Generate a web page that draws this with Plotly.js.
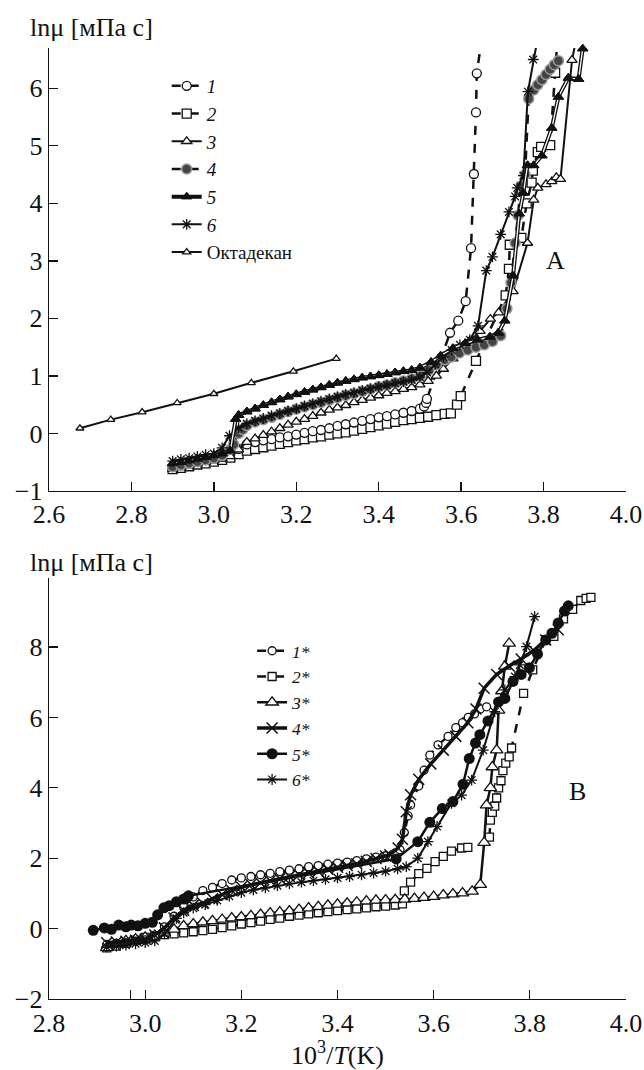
<!DOCTYPE html>
<html><head><meta charset="utf-8">
<script src="https://cdn.plot.ly/plotly-3.0.1.min.js"></script>
</head><body style="margin:0"><div id="chart"></div>
<script>
// ---------- Panel A ----------
const a_names = ['<i>1</i>','<i>2</i>','<i>3</i>','<i>4</i>','<i>5</i>','<i>6</i>','Октадекан'];
const a1_x = [2.90,2.92,2.94,2.96,2.98,3.00,3.02,3.04,3.06,3.08,3.10,3.12,3.14,3.16,3.18,3.20,3.22,3.24,3.26,3.28,3.30,3.32,3.34,3.36,3.38,3.40,3.42,3.44,3.46,3.48,3.50,3.51,3.515,3.517,3.573,3.593,3.611,3.624,3.631,3.636,3.638,3.649];
const a1_y = [-0.58,-0.55,-0.52,-0.49,-0.46,-0.43,-0.40,-0.35,-0.27,-0.19,-0.15,-0.12,-0.10,-0.07,-0.05,-0.02,0.01,0.04,0.06,0.09,0.13,0.16,0.19,0.22,0.25,0.28,0.30,0.33,0.36,0.39,0.43,0.47,0.53,0.60,1.75,1.96,2.30,3.22,4.51,5.58,6.26,6.82];
const a2_x = [2.90,2.92,2.94,2.96,2.98,3.00,3.02,3.04,3.06,3.08,3.10,3.12,3.14,3.16,3.18,3.20,3.22,3.24,3.26,3.28,3.30,3.32,3.34,3.36,3.38,3.40,3.42,3.44,3.46,3.48,3.50,3.52,3.54,3.56,3.575,3.59,3.599,3.636,3.708,3.716,3.718,3.746,3.759,3.771,3.774,3.786,3.794,3.816,3.828,3.834];
const a2_y = [-0.62,-0.60,-0.57,-0.54,-0.52,-0.49,-0.46,-0.42,-0.36,-0.30,-0.27,-0.24,-0.21,-0.18,-0.15,-0.12,-0.10,-0.07,-0.05,-0.02,0.00,0.02,0.05,0.08,0.11,0.14,0.17,0.20,0.23,0.25,0.27,0.29,0.32,0.34,0.35,0.50,0.65,1.26,2.40,2.86,3.28,3.40,4.00,4.36,4.57,4.89,4.98,5.01,6.27,6.88];
const a3_x = [2.90,2.92,2.94,2.96,2.98,3.00,3.02,3.04,3.06,3.08,3.10,3.12,3.14,3.16,3.18,3.20,3.22,3.24,3.26,3.28,3.30,3.32,3.34,3.36,3.38,3.40,3.42,3.44,3.46,3.48,3.50,3.52,3.54,3.557,3.58,3.60,3.62,3.646,3.671,3.691,3.726,3.761,3.776,3.786,3.806,3.82,3.831,3.841,3.869,3.881];
const a3_y = [-0.62,-0.59,-0.56,-0.53,-0.50,-0.47,-0.44,-0.40,-0.28,-0.15,-0.09,-0.03,0.03,0.09,0.15,0.20,0.25,0.30,0.36,0.41,0.45,0.49,0.54,0.58,0.62,0.66,0.70,0.73,0.77,0.80,0.85,0.91,1.00,1.12,1.30,1.45,1.60,1.78,1.99,2.10,2.47,3.31,4.06,4.27,4.33,4.38,4.45,4.42,6.49,6.92];
const a4_x = [2.90,2.92,2.94,2.96,2.98,3.00,3.02,3.04,3.048,3.06,3.07,3.08,3.10,3.12,3.14,3.16,3.18,3.20,3.22,3.24,3.26,3.28,3.30,3.32,3.34,3.36,3.38,3.40,3.42,3.44,3.46,3.48,3.50,3.522,3.54,3.56,3.576,3.596,3.616,3.636,3.656,3.676,3.696,3.711,3.721,3.731,3.738,3.745,3.755,3.764,3.776,3.786,3.796,3.806,3.816,3.826,3.836];
const a4_y = [-0.58,-0.55,-0.52,-0.49,-0.46,-0.43,-0.38,-0.28,-0.19,0.00,0.07,0.14,0.20,0.24,0.28,0.33,0.38,0.42,0.46,0.50,0.54,0.58,0.62,0.66,0.69,0.73,0.77,0.81,0.84,0.88,0.91,0.95,0.99,1.10,1.20,1.28,1.33,1.40,1.45,1.50,1.54,1.60,1.70,2.17,2.62,3.31,3.79,4.30,4.50,5.82,5.97,6.06,6.15,6.24,6.33,6.41,6.48];
const a5_x = [2.90,2.92,2.94,2.96,2.98,3.00,3.02,3.04,3.053,3.06,3.08,3.10,3.12,3.14,3.16,3.18,3.20,3.22,3.24,3.26,3.28,3.30,3.32,3.34,3.36,3.38,3.40,3.42,3.44,3.46,3.48,3.50,3.527,3.55,3.58,3.61,3.64,3.67,3.69,3.706,3.726,3.741,3.751,3.761,3.776,3.796,3.82,3.836,3.86,3.885,3.895,3.90];
const a5_y = [-0.52,-0.50,-0.47,-0.44,-0.41,-0.38,-0.35,-0.30,0.25,0.32,0.38,0.43,0.49,0.54,0.59,0.64,0.68,0.72,0.76,0.80,0.84,0.88,0.91,0.94,0.97,0.99,1.01,1.03,1.06,1.08,1.10,1.14,1.24,1.35,1.48,1.57,1.63,1.68,1.75,1.96,2.74,3.82,4.18,4.66,4.66,4.83,5.31,5.85,6.18,6.16,6.69,6.93];
const a6_x = [2.90,2.92,2.94,2.96,2.98,3.00,3.02,3.038,3.06,3.08,3.10,3.12,3.14,3.16,3.18,3.20,3.22,3.24,3.26,3.28,3.30,3.32,3.34,3.36,3.38,3.40,3.42,3.44,3.46,3.48,3.50,3.517,3.537,3.557,3.577,3.597,3.621,3.641,3.661,3.676,3.696,3.716,3.731,3.736,3.751,3.762,3.775,3.787];
const a6_y = [-0.48,-0.45,-0.43,-0.40,-0.37,-0.35,-0.25,-0.04,0.10,0.17,0.22,0.26,0.31,0.35,0.39,0.43,0.48,0.52,0.56,0.60,0.64,0.68,0.71,0.75,0.78,0.81,0.84,0.87,0.90,0.93,0.98,1.06,1.20,1.33,1.45,1.54,1.63,1.87,2.83,3.07,3.46,3.85,4.12,4.27,4.48,5.94,6.50,6.92];
const oct_x = [2.675,2.75,2.826,2.911,3.0,3.091,3.193,3.297];
const oct_y = [0.09,0.24,0.37,0.53,0.69,0.88,1.08,1.30];

// ---------- Panel B ----------
const b_names = ['<i>1*</i>','<i>2*</i>','<i>3*</i>','<i>4*</i>','<i>5*</i>','<i>6*</i>'];
const b1_x = [2.92,2.94,2.96,2.98,3.00,3.02,3.04,3.06,3.08,3.10,3.12,3.14,3.16,3.18,3.20,3.22,3.24,3.26,3.28,3.30,3.32,3.34,3.36,3.38,3.40,3.42,3.44,3.46,3.48,3.50,3.52,3.53,3.539,3.547,3.552,3.569,3.58,3.592,3.609,3.63,3.646,3.66,3.672,3.685,3.697,3.71];
const b1_y = [-0.45,-0.42,-0.40,-0.36,-0.32,-0.22,0.05,0.35,0.62,0.90,1.08,1.17,1.28,1.38,1.44,1.48,1.53,1.57,1.62,1.66,1.70,1.76,1.79,1.83,1.86,1.89,1.93,1.98,2.03,2.07,2.15,2.24,2.73,3.20,3.51,4.05,4.50,4.93,5.22,5.46,5.71,5.85,6.00,6.10,6.24,6.30];
const b2_x = [2.92,2.94,2.96,2.98,3.00,3.02,3.04,3.06,3.08,3.10,3.12,3.14,3.16,3.18,3.20,3.22,3.24,3.26,3.28,3.30,3.32,3.34,3.36,3.38,3.40,3.42,3.44,3.46,3.48,3.50,3.52,3.535,3.539,3.552,3.569,3.586,3.603,3.62,3.637,3.658,3.671,null,3.716,3.718,3.722,3.727,3.731,3.735,3.74,3.744,3.75,3.757,3.762,3.787,3.806,3.833,3.85,3.87,3.889,3.906,3.917,3.927];
const b2_y = [-0.55,-0.50,-0.42,-0.33,-0.25,-0.20,-0.17,-0.15,-0.12,-0.09,-0.06,-0.02,0.03,0.08,0.13,0.17,0.21,0.26,0.30,0.35,0.38,0.42,0.45,0.48,0.51,0.54,0.56,0.59,0.62,0.64,0.67,0.70,1.07,1.32,1.56,1.71,1.90,2.05,2.20,2.29,2.31,null,2.60,3.08,3.30,3.48,3.71,4.00,4.20,4.49,4.70,4.88,5.13,6.68,7.35,8.20,8.30,8.80,9.07,9.32,9.38,9.41];
const b3_x = [2.92,2.94,2.96,2.98,3.00,3.02,3.04,3.06,3.08,3.10,3.12,3.14,3.16,3.18,3.20,3.22,3.24,3.26,3.28,3.30,3.32,3.34,3.36,3.38,3.40,3.42,3.44,3.46,3.48,3.50,3.52,3.54,3.56,3.58,3.60,3.62,3.64,3.66,3.68,3.697,3.705,3.71,3.718,3.722,3.731,3.735,3.742,3.748,3.757];
const b3_y = [-0.55,-0.45,-0.35,-0.30,-0.25,-0.20,-0.13,-0.02,0.08,0.13,0.18,0.22,0.26,0.30,0.33,0.36,0.40,0.44,0.47,0.50,0.54,0.58,0.62,0.66,0.69,0.72,0.75,0.78,0.80,0.81,0.82,0.83,0.85,0.88,0.91,0.95,0.98,1.01,1.06,1.25,2.44,3.51,4.00,4.59,5.07,6.20,6.75,7.45,8.10];
const b4_x = [2.92,2.94,2.96,2.98,3.00,3.02,3.04,3.06,3.08,3.10,3.12,3.14,3.16,3.18,3.20,3.22,3.24,3.26,3.28,3.30,3.32,3.34,3.36,3.38,3.40,3.42,3.44,3.46,3.48,3.50,3.509,3.526,3.535,3.543,3.552,3.569,3.594,3.62,3.646,3.671,3.688,3.705,3.731,3.757,3.782,3.808,3.833,3.859];
const b4_y = [-0.40,-0.38,-0.36,-0.33,-0.30,-0.18,0.02,0.30,0.52,0.66,0.72,0.85,0.97,1.08,1.18,1.25,1.30,1.36,1.42,1.48,1.53,1.58,1.63,1.69,1.74,1.79,1.84,1.91,1.99,2.06,2.10,2.29,2.54,3.32,3.80,4.24,4.68,5.07,5.46,5.85,6.24,6.83,7.22,7.46,7.66,7.90,8.20,8.49];
const b5_x = [2.892,2.915,2.93,2.945,2.96,2.971,2.985,3.0,3.015,3.026,3.039,3.05,3.065,3.08,3.09,3.522,3.567,3.592,3.618,3.64,3.661,3.674,3.687,3.696,3.713,3.735,3.748,3.765,3.782,3.799,3.816,3.833,3.846,3.859,3.872,3.88];
const b5_y = [-0.05,0.02,-0.02,0.10,0.05,0.10,0.08,0.15,0.18,0.39,0.59,0.65,0.76,0.84,0.93,1.98,2.47,3.02,3.41,3.61,4.10,4.83,5.27,5.51,5.90,6.44,6.54,7.02,7.22,7.41,7.80,8.20,8.39,8.68,9.02,9.17];
const b6_x = [2.92,2.94,2.96,2.98,3.00,3.02,3.04,3.065,3.08,3.10,3.125,3.15,3.175,3.20,3.225,3.25,3.275,3.30,3.325,3.35,3.375,3.40,3.425,3.45,3.475,3.50,3.525,3.543,3.567,3.588,3.607,3.637,3.658,3.679,3.703,3.727,3.748,3.769,3.779,3.793,3.81];
const b6_y = [-0.52,-0.50,-0.47,-0.43,-0.40,-0.35,-0.15,0.29,0.45,0.58,0.68,0.80,0.92,1.02,1.10,1.16,1.22,1.28,1.32,1.36,1.40,1.44,1.48,1.53,1.58,1.63,1.70,1.76,2.00,2.47,2.90,3.56,3.79,4.22,5.07,6.16,6.78,7.16,7.49,8.01,8.86];

const a_xticks = [2.6,2.8,3.0,3.2,3.4,3.6,3.8,4.0];
const a_yticks = [-1,0,1,2,3,4,5,6];
const a_yticktext = ['\u22121','0','1','2','3','4','5','6'];
const b_xticks = [2.8,3.0,3.2,3.4,3.6,3.8,4.0];
const b_xminor = [2.97];
const b_yticks = [-2,0,2,4,6,8];
const b_yticktext = ['\u22122','0','2','4','6','8'];

const K = '#111';
const openM = (sym, size) => ({symbol: sym, size: size, color: '#fff', line: {color: K, width: 1.3}});

const traces = [
  {x: oct_x, y: oct_y, name: a_names[6], mode: 'lines+markers', line: {color: K, width: 2}, marker: openM('triangle-up', 7), xaxis: 'x', yaxis: 'y', legend: 'legend', legendrank: 7},
  {x: a2_x, y: a2_y, name: a_names[1], mode: 'lines+markers', line: {color: K, width: 2.5, dash: 'dash'}, marker: openM('square', 9), xaxis: 'x', yaxis: 'y', legend: 'legend', legendrank: 2, cliponaxis: false},
  {x: a1_x, y: a1_y, name: a_names[0], mode: 'lines+markers', line: {color: K, width: 2.5, dash: 'dash'}, marker: openM('circle', 9), xaxis: 'x', yaxis: 'y', legend: 'legend', legendrank: 1, cliponaxis: false},
  {x: a3_x, y: a3_y, name: a_names[2], mode: 'lines+markers', line: {color: K, width: 2}, marker: openM('triangle-up', 9), xaxis: 'x', yaxis: 'y', legend: 'legend', legendrank: 3, cliponaxis: false},
  {x: a4_x, y: a4_y, name: a_names[3], mode: 'lines+markers', line: {color: K, width: 2.5, dash: 'dash'}, marker: {symbol: 'circle', size: 10, color: '#444', line: {color: '#9a9a9a', width: 1.5}}, xaxis: 'x', yaxis: 'y', legend: 'legend', legendrank: 4},
  {x: a6_x, y: a6_y, name: a_names[5], mode: 'lines+markers', line: {color: K, width: 2}, marker: {symbol: 'asterisk-open', size: 9, color: K, line: {color: K, width: 1.3}}, xaxis: 'x', yaxis: 'y', legend: 'legend', legendrank: 6, cliponaxis: false},
  {x: a5_x, y: a5_y, name: a_names[4], mode: 'lines+markers', line: {color: K, width: 4}, marker: {symbol: 'triangle-up', size: 9, color: K, line: {color: K, width: 1}}, xaxis: 'x', yaxis: 'y', legend: 'legend', legendrank: 5},
  {x: a5_x, y: a5_y, mode: 'lines', line: {color: '#fff', width: 1.3}, showlegend: false, hoverinfo: 'skip', xaxis: 'x', yaxis: 'y'},
  {x: a5_x, y: a5_y, mode: 'markers', marker: {symbol: 'triangle-up', size: 9, color: K, line: {color: K, width: 1}}, showlegend: false, hoverinfo: 'skip', xaxis: 'x', yaxis: 'y', cliponaxis: false},

  {x: b2_x, y: b2_y, name: b_names[1], mode: 'lines+markers', line: {color: K, width: 2.5, dash: 'dash'}, marker: openM('square', 8), xaxis: 'x2', yaxis: 'y2', legend: 'legend2', legendrank: 2, connectgaps: false},
  {x: b3_x, y: b3_y, name: b_names[2], mode: 'lines+markers', line: {color: K, width: 2.5}, marker: openM('triangle-up', 11), xaxis: 'x2', yaxis: 'y2', legend: 'legend2', legendrank: 3},
  {x: b1_x, y: b1_y, name: b_names[0], mode: 'lines+markers', line: {color: K, width: 2.5, dash: 'dash'}, marker: openM('circle', 8), xaxis: 'x2', yaxis: 'y2', legend: 'legend2', legendrank: 1},
  {x: b6_x, y: b6_y, name: b_names[5], mode: 'lines+markers', line: {color: K, width: 2}, marker: {symbol: 'asterisk-open', size: 9, color: K, line: {color: K, width: 1.3}}, xaxis: 'x2', yaxis: 'y2', legend: 'legend2', legendrank: 6},
  {x: b5_x, y: b5_y, name: b_names[4], mode: 'lines+markers', line: {color: K, width: 2.5}, marker: {symbol: 'circle', size: 11, color: K}, xaxis: 'x2', yaxis: 'y2', legend: 'legend2', legendrank: 5},
  {x: b4_x, y: b4_y, name: b_names[3], mode: 'lines+markers', line: {color: K, width: 3.5}, marker: {symbol: 'x-thin-open', size: 11, color: K, line: {color: K, width: 1.5}}, xaxis: 'x2', yaxis: 'y2', legend: 'legend2', legendrank: 4}
];

function ax(extra) {
  return Object.assign({showline: true, linecolor: K, linewidth: 1.3, ticks: 'inside', ticklen: 9, tickwidth: 1.3, tickcolor: K,
    showgrid: false, zeroline: false, mirror: false, tickmode: 'array',
    tickfont: {family: 'Liberation Serif', size: 26, color: K}}, extra);
}

const layout = {
  width: 644, height: 1070,
  margin: {l: 49, r: 18, t: 48, b: 71},
  paper_bgcolor: '#fff', plot_bgcolor: '#fff',
  font: {family: 'Liberation Serif', size: 26, color: K},
  xaxis: ax({domain: [0, 1], range: [2.6, 4.0], tickvals: a_xticks, ticktext: a_xticks.map(v => v.toFixed(1)), anchor: 'y'}),
  yaxis: ax({domain: [0.5342, 1], range: [-1, 6.7], tickvals: a_yticks, ticktext: a_yticktext, anchor: 'x'}),
  xaxis2: ax({domain: [0, 1], range: [2.8, 4.0], tickvals: b_xticks, ticktext: b_xticks.map(v => v.toFixed(1)), anchor: 'y2',
    minor: {tickmode: 'array', tickvals: b_xminor, ticks: 'inside', ticklen: 9, tickwidth: 1.3, tickcolor: K, showgrid: false},
    title: {text: '10<sup>3</sup>/<i>T</i>(K)', font: {family: 'Liberation Serif', size: 26, color: K}, standoff: 4}}),
  yaxis2: ax({domain: [0, 0.4427], range: [-2, 9.96], tickvals: b_yticks, ticktext: b_yticktext, anchor: 'x2'}),
  legend: {x: 0.204, y: 0.98, xanchor: 'left', yanchor: 'top', bgcolor: 'rgba(0,0,0,0)', font: {family: 'Liberation Serif', size: 19, color: K}, traceorder: 'normal'},
  legend2: {x: 0.352, y: 0.385, xanchor: 'left', yanchor: 'top', bgcolor: 'rgba(0,0,0,0)', font: {family: 'Liberation Serif', size: 17.5, color: K}, traceorder: 'normal'},
  annotations: [
    {text: 'ln\u03bc [мПа с]', xref: 'paper', yref: 'paper', x: 0.0745, y: 1.022, xanchor: 'center', yanchor: 'middle', showarrow: false, font: {family: 'Liberation Serif', size: 26, color: K}},
    {text: 'ln\u03bc [мПа с]', xref: 'paper', yref: 'paper', x: 0.0745, y: 0.4595, xanchor: 'center', yanchor: 'middle', showarrow: false, font: {family: 'Liberation Serif', size: 26, color: K}},
    {text: 'A', xref: 'x', yref: 'y', x: 3.83, y: 3.0, showarrow: false, font: {family: 'Liberation Serif', size: 26, color: K}},
    {text: 'B', xref: 'x2', yref: 'y2', x: 3.9, y: 3.9, showarrow: false, font: {family: 'Liberation Serif', size: 26, color: K}}
  ],
  showlegend: true
};

Plotly.newPlot('chart', traces, layout, {staticPlot: true, displayModeBar: false});
</script></body></html>
